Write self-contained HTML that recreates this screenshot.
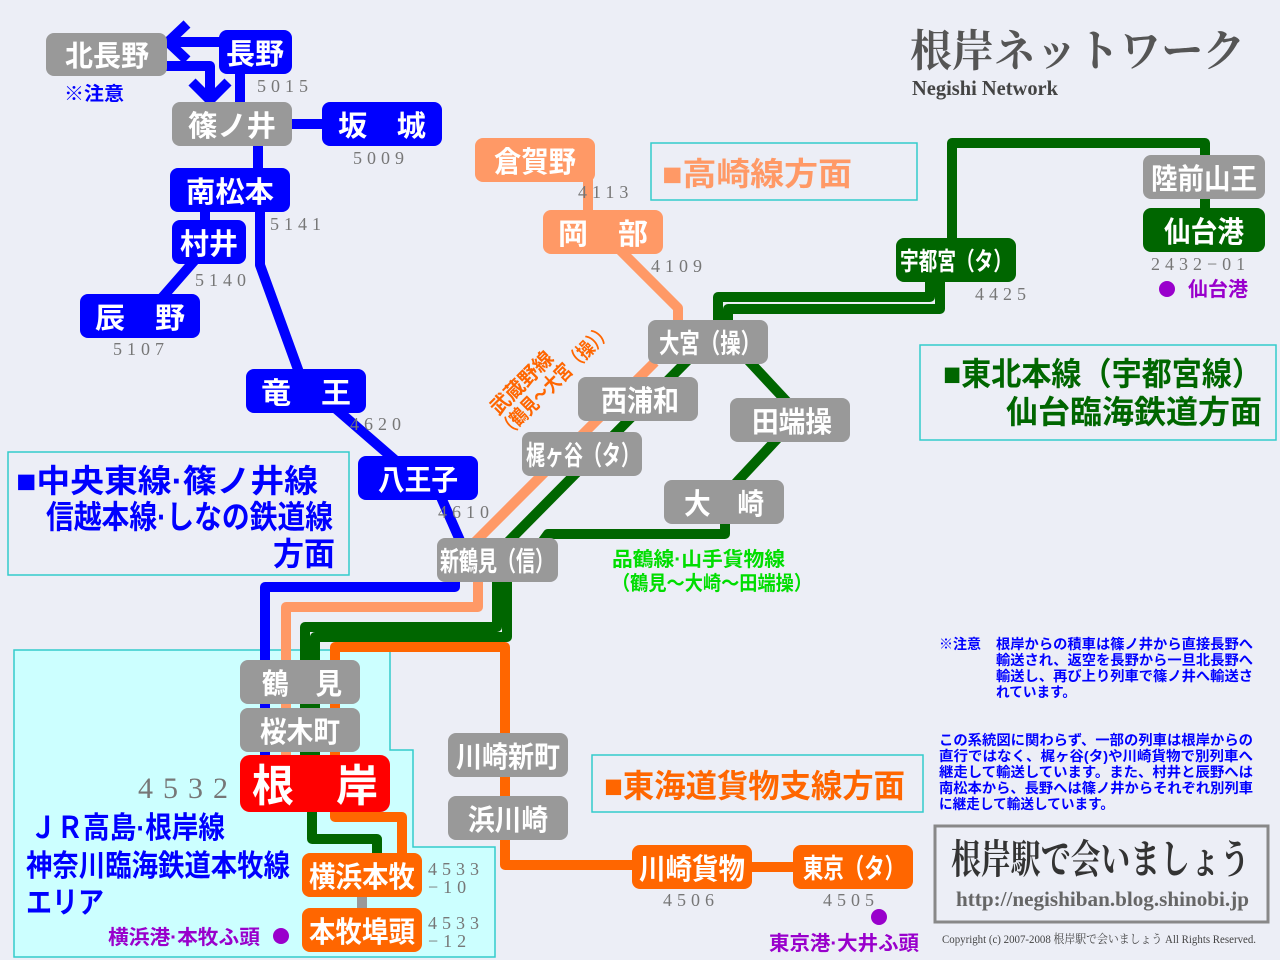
<!DOCTYPE html>
<html><head><meta charset="utf-8"><style>
html,body{margin:0;padding:0;background:#eceef6;}
svg{display:block;}
.n{font-family:"Liberation Sans","Noto Sans CJK JP",sans-serif;font-weight:bold;fill:#fff;text-anchor:middle;}
.num{font-family:"Liberation Serif","Noto Serif CJK SC",serif;fill:#777;letter-spacing:5px;}
.j{font-family:"Liberation Sans","Noto Sans CJK JP",sans-serif;font-weight:bold;}
</style></head><body>
<svg width="1280" height="960" viewBox="0 0 1280 960" xmlns="http://www.w3.org/2000/svg">
<rect width="1280" height="960" fill="#eceef6"/>
<polygon points="14,650 390,650 390,750 413,750 413,847 495,847 495,957 14,957" fill="#ccffff" stroke="#33cccc" stroke-width="1.5"/>
<rect x="651" y="143" width="266" height="57" fill="none" stroke="#33cccc" stroke-width="1.5"/>
<rect x="920" y="345" width="356" height="95" fill="none" stroke="#33cccc" stroke-width="1.5"/>
<rect x="8" y="452" width="341" height="123" fill="none" stroke="#33cccc" stroke-width="1.5"/>
<rect x="592" y="755" width="331" height="57" fill="none" stroke="#33cccc" stroke-width="1.5"/>
<rect x="935" y="826" width="333" height="96" fill="none" stroke="#888" stroke-width="3"/>

<g fill="none" stroke-linejoin="round" stroke-width="10">
<g stroke="#0000ff">
<line x1="240" y1="60" x2="240" y2="110"/>
<polyline points="225,42 172,42"/>
<polyline points="187,24 168,42 187,60"/>
<polyline points="160,66 210,66 210,95"/>
<polyline points="192,82 210,100 228,82"/>
<line x1="290" y1="124" x2="330" y2="124"/>
<line x1="258" y1="140" x2="258" y2="175"/>
<polyline points="260,205 260,265 300,375"/>
<line x1="205" y1="205" x2="205" y2="225"/>
<line x1="195" y1="260" x2="160" y2="300"/>
<line x1="335" y1="408" x2="395" y2="460"/>
<line x1="440" y1="495" x2="462" y2="545"/>
<polyline points="455,575 455,587 265,587 265,760"/>
</g>
<g stroke="#ff9966">
<line x1="588" y1="175" x2="588" y2="215"/>
<polyline points="620,250 678,308 678,325"/>
<line x1="655" y1="362" x2="475" y2="542"/>
<polyline points="478,575 478,607 286,607 286,760"/>
</g>
<g stroke="#006600">
<line x1="688" y1="360" x2="505" y2="545"/>
<line x1="748" y1="360" x2="790" y2="405"/>
<line x1="778" y1="438" x2="735" y2="484"/>
<polyline points="725,520 725,534 548,534 540,545"/>
<polyline points="718,325 718,297 930,297 930,275"/>
<polyline points="728,325 728,309 940,309 940,275"/>
<polyline points="952,245 952,143 1205,143 1205,160"/>
<line x1="1205" y1="195" x2="1205" y2="212"/>
<polyline points="497,575 497,627 305,627 305,760"/>
<polyline points="507,575 507,637 315,637 315,760"/>
<polyline points="312,805 312,839 377,839 377,858"/>
</g>
<g stroke="#ff6600">
<polyline points="335,760 335,647 505,647 505,865 640,865"/>
<line x1="750" y1="867" x2="800" y2="867"/>
<polyline points="335,805 335,817 402,817 402,858"/>
</g>
<line x1="362" y1="895" x2="362" y2="912" stroke="#999" stroke-width="10"/>
</g>

<g>
<rect x="46" y="33" width="121" height="43" rx="8" fill="#999"/><text class="n" x="107" y="66" font-size="29" textLength="84" lengthAdjust="spacingAndGlyphs">北長野</text>
<rect x="219" y="30" width="73" height="44" rx="8" fill="#0000ff"/><text class="n" x="255" y="64" font-size="29" textLength="58" lengthAdjust="spacingAndGlyphs">長野</text>
<rect x="172" y="102" width="120" height="44" rx="8" fill="#999"/><text class="n" x="232" y="136" font-size="29" textLength="88" lengthAdjust="spacingAndGlyphs">篠ノ井</text>
<rect x="322" y="102" width="120" height="44" rx="8" fill="#0000ff"/><text class="n" x="382" y="136" font-size="29" textLength="88" lengthAdjust="spacingAndGlyphs">坂　城</text>
<rect x="170" y="168" width="120" height="44" rx="8" fill="#0000ff"/><text class="n" x="230" y="202" font-size="29" textLength="88" lengthAdjust="spacingAndGlyphs">南松本</text>
<rect x="172" y="220" width="74" height="44" rx="8" fill="#0000ff"/><text class="n" x="209" y="254" font-size="29" textLength="58" lengthAdjust="spacingAndGlyphs">村井</text>
<rect x="80" y="294" width="120" height="44" rx="8" fill="#0000ff"/><text class="n" x="140" y="328" font-size="29" textLength="90" lengthAdjust="spacingAndGlyphs">辰　野</text>
<rect x="246" y="369" width="120" height="44" rx="8" fill="#0000ff"/><text class="n" x="306" y="403" font-size="29" textLength="90" lengthAdjust="spacingAndGlyphs">竜　王</text>
<rect x="358" y="456" width="120" height="44" rx="8" fill="#0000ff"/><text class="n" x="418" y="490" font-size="29" textLength="80" lengthAdjust="spacingAndGlyphs">八王子</text>
<rect x="437" y="538" width="121" height="44" rx="8" fill="#999"/><text class="n" x="497" y="571" font-size="27" textLength="114" lengthAdjust="spacingAndGlyphs">新鶴見（信）</text>
<rect x="475" y="138" width="120" height="44" rx="8" fill="#ff9966"/><text class="n" x="535" y="172" font-size="29" textLength="82" lengthAdjust="spacingAndGlyphs">倉賀野</text>
<rect x="543" y="210" width="120" height="44" rx="8" fill="#ff9966"/><text class="n" x="603" y="244" font-size="29" textLength="90" lengthAdjust="spacingAndGlyphs">岡　部</text>
<rect x="648" y="320" width="120" height="44" rx="8" fill="#999"/><text class="n" x="710" y="353" font-size="27" textLength="102" lengthAdjust="spacingAndGlyphs">大宮（操）</text>
<rect x="578" y="377" width="120" height="44" rx="8" fill="#999"/><text class="n" x="640" y="411" font-size="29" textLength="78" lengthAdjust="spacingAndGlyphs">西浦和</text>
<rect x="522" y="432" width="120" height="44" rx="8" fill="#999"/><text class="n" x="583" y="465" font-size="27" textLength="114" lengthAdjust="spacingAndGlyphs">梶ヶ谷（タ）</text>
<rect x="730" y="398" width="120" height="44" rx="8" fill="#999"/><text class="n" x="792" y="432" font-size="29" textLength="80" lengthAdjust="spacingAndGlyphs">田端操</text>
<rect x="664" y="480" width="120" height="44" rx="8" fill="#999"/><text class="n" x="724" y="514" font-size="29" textLength="80" lengthAdjust="spacingAndGlyphs">大　崎</text>
<rect x="896" y="238" width="120" height="44" rx="8" fill="#006600"/><text class="n" x="956" y="270" font-size="25" textLength="112" lengthAdjust="spacingAndGlyphs">宇都宮（タ）</text>
<rect x="1143" y="155" width="122" height="44" rx="8" fill="#999"/><text class="n" x="1204" y="189" font-size="29" textLength="106" lengthAdjust="spacingAndGlyphs">陸前山王</text>
<rect x="1143" y="208" width="122" height="44" rx="8" fill="#006600"/><text class="n" x="1204" y="242" font-size="29" textLength="80" lengthAdjust="spacingAndGlyphs">仙台港</text>
<rect x="240" y="660" width="120" height="44" rx="8" fill="#999"/><text class="n" x="302" y="694" font-size="29" textLength="80" lengthAdjust="spacingAndGlyphs">鶴　見</text>
<rect x="240" y="708" width="120" height="44" rx="8" fill="#999"/><text class="n" x="300" y="742" font-size="29" textLength="80" lengthAdjust="spacingAndGlyphs">桜木町</text>
<rect x="240" y="755" width="150" height="57" rx="10" fill="#ff0000"/><text class="n" x="315" y="801" font-size="44" textLength="126" lengthAdjust="spacingAndGlyphs">根　岸</text>
<rect x="302" y="853" width="120" height="44" rx="8" fill="#ff6600"/><text class="n" x="362" y="887" font-size="29" textLength="106" lengthAdjust="spacingAndGlyphs">横浜本牧</text>
<rect x="302" y="908" width="120" height="44" rx="8" fill="#ff6600"/><text class="n" x="362" y="942" font-size="29" textLength="106" lengthAdjust="spacingAndGlyphs">本牧埠頭</text>
<rect x="448" y="733" width="120" height="44" rx="8" fill="#999"/><text class="n" x="508" y="767" font-size="29" textLength="104" lengthAdjust="spacingAndGlyphs">川崎新町</text>
<rect x="448" y="796" width="120" height="44" rx="8" fill="#999"/><text class="n" x="508" y="830" font-size="29" textLength="80" lengthAdjust="spacingAndGlyphs">浜川崎</text>
<rect x="632" y="845" width="120" height="44" rx="8" fill="#ff6600"/><text class="n" x="692" y="879" font-size="29" textLength="106" lengthAdjust="spacingAndGlyphs">川崎貨物</text>
<rect x="793" y="845" width="120" height="44" rx="8" fill="#ff6600"/><text class="n" x="854" y="878" font-size="27" textLength="102" lengthAdjust="spacingAndGlyphs">東京（タ）</text>
</g>

<g font-size="18">
<text class="num" x="257" y="92">5015</text>
<text class="num" x="353" y="164">5009</text>
<text class="num" x="270" y="230">5141</text>
<text class="num" x="195" y="286">5140</text>
<text class="num" x="113" y="355">5107</text>
<text class="num" x="350" y="430">4620</text>
<text class="num" x="438" y="518">4610</text>
<text class="num" x="578" y="198">4113</text>
<text class="num" x="651" y="272">4109</text>
<text class="num" x="975" y="300">4425</text>
<text class="num" x="1151" y="270">2432−01</text>
<text class="num" x="663" y="906">4506</text>
<text class="num" x="823" y="906">4505</text>
<text class="num" x="428" y="875">4533</text>
<text class="num" x="428" y="893">−10</text>
<text class="num" x="428" y="929">4533</text>
<text class="num" x="428" y="947">−12</text>
</g>
<text class="num" x="138" y="798" style="font-size:30px;letter-spacing:10px">4532</text>

<text class="j" x="64" y="100" font-size="19" fill="#0000ff" textLength="60" lengthAdjust="spacingAndGlyphs">※注意</text>
<circle cx="1167" cy="289" r="8" fill="#9900cc"/>
<text class="j" x="1188" y="296" font-size="20" fill="#9900cc" textLength="60" lengthAdjust="spacingAndGlyphs">仙台港</text>
<circle cx="879" cy="917" r="8" fill="#9900cc"/>
<text class="j" x="769" y="950" font-size="20" fill="#9900cc" textLength="150" lengthAdjust="spacingAndGlyphs">東京港·大井ふ頭</text>
<circle cx="281" cy="936" r="8" fill="#9900cc"/>
<text class="j" x="108" y="944" font-size="20" fill="#9900cc" textLength="152" lengthAdjust="spacingAndGlyphs">横浜港·本牧ふ頭</text>

<text class="j" x="662" y="185" font-size="32" fill="#ff9966" textLength="190" lengthAdjust="spacingAndGlyphs">■高崎線方面</text>
<text class="j" x="943" y="385" font-size="32" fill="#006600" textLength="319" lengthAdjust="spacingAndGlyphs">■東北本線（宇都宮線）</text>
<text class="j" x="1006" y="423" font-size="32" fill="#006600" textLength="256" lengthAdjust="spacingAndGlyphs">仙台臨海鉄道方面</text>
<text class="j" x="16" y="492" font-size="32" fill="#0000ff" textLength="302" lengthAdjust="spacingAndGlyphs">■中央東線·篠ノ井線</text>
<text class="j" x="46" y="528" font-size="32" fill="#0000ff" textLength="287" lengthAdjust="spacingAndGlyphs">信越本線·しなの鉄道線</text>
<text class="j" x="273" y="565" font-size="32" fill="#0000ff" textLength="62" lengthAdjust="spacingAndGlyphs">方面</text>
<text class="j" x="604" y="797" font-size="32" fill="#ff6600" textLength="301" lengthAdjust="spacingAndGlyphs">■東海道貨物支線方面</text>
<text class="j" x="30" y="838" font-size="30" fill="#0000ff" textLength="195" lengthAdjust="spacingAndGlyphs">ＪＲ高島·根岸線</text>
<text class="j" x="26" y="876" font-size="30" fill="#0000ff" textLength="264" lengthAdjust="spacingAndGlyphs">神奈川臨海鉄道本牧線</text>
<text class="j" x="26" y="913" font-size="30" fill="#0000ff" textLength="78" lengthAdjust="spacingAndGlyphs">エリア</text>

<g transform="translate(545,375) rotate(-45)">
<text class="j" x="-62" y="-4" font-size="20" fill="#ff6600" textLength="80" lengthAdjust="spacingAndGlyphs">武蔵野線</text>
<text class="j" x="-72" y="18" font-size="20" fill="#ff6600" textLength="150" lengthAdjust="spacingAndGlyphs">（鶴見〜大宮（操））</text>
</g>
<text class="j" x="612" y="566" font-size="20" fill="#00dd00" textLength="173" lengthAdjust="spacingAndGlyphs">品鶴線·山手貨物線</text>
<text class="j" x="612" y="590" font-size="20" fill="#00dd00" textLength="200" lengthAdjust="spacingAndGlyphs">（鶴見〜大崎〜田端操）</text>

<text x="910" y="66" font-size="44" fill="#555" font-family="'Noto Serif CJK SC',serif" font-weight="bold" textLength="335" lengthAdjust="spacingAndGlyphs">根岸ネットワーク</text>
<text x="912" y="95" font-size="21" fill="#444" font-family="'Liberation Serif',serif" font-weight="bold" textLength="146" lengthAdjust="spacingAndGlyphs">Negishi Network</text>

<g font-family="'Liberation Sans','Noto Sans CJK JP',sans-serif" font-size="14" font-weight="bold" fill="#0000ff" lengthAdjust="spacingAndGlyphs">
<text x="939" y="649" textLength="42" lengthAdjust="spacingAndGlyphs">※注意</text>
<text x="996" y="649" textLength="257" lengthAdjust="spacingAndGlyphs">根岸からの積車は篠ノ井から直接長野へ</text>
<text x="996" y="665" textLength="257" lengthAdjust="spacingAndGlyphs">輸送され、返空を長野から一旦北長野へ</text>
<text x="996" y="681" textLength="257" lengthAdjust="spacingAndGlyphs">輸送し、再び上り列車で篠ノ井へ輸送さ</text>
<text x="996" y="697" textLength="80" lengthAdjust="spacingAndGlyphs">れています。</text>
<text x="939" y="745" textLength="314" lengthAdjust="spacingAndGlyphs">この系統図に関わらず、一部の列車は根岸からの</text>
<text x="939" y="761" textLength="314" lengthAdjust="spacingAndGlyphs">直行ではなく、梶ヶ谷(タ)や川崎貨物で別列車へ</text>
<text x="939" y="777" textLength="314" lengthAdjust="spacingAndGlyphs">継走して輸送しています。また、村井と辰野へは</text>
<text x="939" y="793" textLength="314" lengthAdjust="spacingAndGlyphs">南松本から、長野へは篠ノ井からそれぞれ別列車</text>
<text x="939" y="809" textLength="175" lengthAdjust="spacingAndGlyphs">に継走して輸送しています。</text>
</g>
<text x="951" y="873" font-size="40" fill="#333" font-family="'Noto Serif CJK SC',serif" font-weight="bold" textLength="299" lengthAdjust="spacingAndGlyphs">根岸駅で会いましょう</text>
<text x="956" y="906" font-size="21" fill="#666" font-family="'Liberation Serif',serif" font-weight="bold" textLength="293" lengthAdjust="spacingAndGlyphs">http://negishiban.blog.shinobi.jp</text>
<text x="942" y="943" font-size="12" fill="#444" font-family="'Liberation Serif','Noto Serif CJK SC',serif" textLength="314" lengthAdjust="spacingAndGlyphs">Copyright (c) 2007-2008 根岸駅で会いましょう All Rights Reserved.</text>
</svg>
</body></html>
